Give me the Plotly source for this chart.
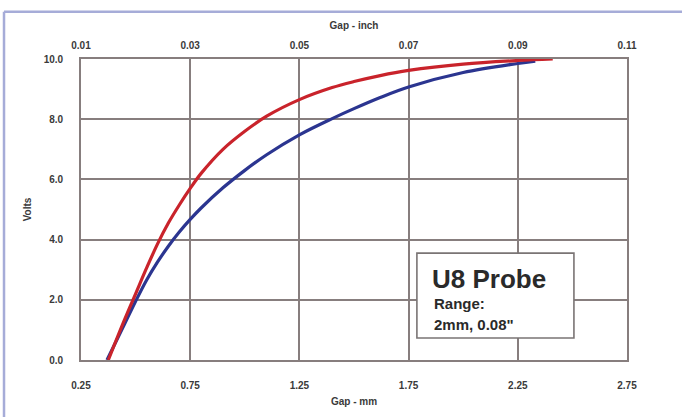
import plotly.graph_objects as go

# Data
mm_red = [0.375, 0.45, 0.50, 0.55, 0.60, 0.65, 0.70, 0.75, 0.80, 0.90, 1.00, 1.10, 1.25, 1.40, 1.50, 1.62, 1.75, 2.00, 2.25, 2.41]
v_red = [0.0, 1.35, 2.2, 3.05, 3.85, 4.55, 5.15, 5.7, 6.2, 7.0, 7.6, 8.1, 8.65, 9.05, 9.25, 9.45, 9.62, 9.83, 9.95, 10.0]

mm_blue = [0.369, 0.45, 0.50, 0.55, 0.60, 0.65, 0.70, 0.75, 0.80, 0.90, 1.00, 1.10, 1.25, 1.40, 1.50, 1.62, 1.75, 2.00, 2.25, 2.33]
v_blue = [0.0, 1.2, 1.95, 2.65, 3.25, 3.78, 4.25, 4.67, 5.05, 5.72, 6.3, 6.82, 7.48, 8.02, 8.35, 8.72, 9.07, 9.55, 9.85, 9.93]

mm_ticks = [0.25, 0.75, 1.25, 1.75, 2.25, 2.75]
inch_labels = ["0.01", "0.03", "0.05", "0.07", "0.09", "0.11"]
volt_ticks = [0, 2, 4, 6, 8, 10]

FONT = "Liberation Sans Narrow, Arial Narrow, Liberation Sans, Arial, sans-serif"
GRID = "#877e7e"
TXT = "#3a3a3a"

fig = go.Figure()
fig.add_trace(go.Scatter(x=mm_blue, y=v_blue, mode="lines", line=dict(color="#2b3590", width=3.2, shape="spline"),
                         showlegend=False, hoverinfo="skip"))
fig.add_trace(go.Scatter(x=mm_red, y=v_red, mode="lines", line=dict(color="#c9232b", width=3.2, shape="spline"),
                         showlegend=False, hoverinfo="skip"))
# invisible trace to carry the top axis
fig.add_trace(go.Scatter(x=[mm_ticks[0], mm_ticks[-1]], y=[0, 0], xaxis="x2", mode="lines",
                         line=dict(color="rgba(0,0,0,0)"), showlegend=False, hoverinfo="skip"))

tickfont = dict(family=FONT, size=10, color=TXT)
axis_common = dict(showgrid=True, gridcolor=GRID, gridwidth=1.6, showline=True, linecolor=GRID,
                   linewidth=1.6, zeroline=False, ticks="outside", tickcolor="rgba(0,0,0,0)",
                   tickfont=tickfont)

fig.update_layout(
    width=682, height=417,
    margin=dict(l=81, r=55, t=59, b=57),
    paper_bgcolor="white", plot_bgcolor="white",
    xaxis=dict(range=[0.25, 2.75], tickvals=mm_ticks, ticktext=[f"<b>{v:.2f}</b>" for v in mm_ticks],
               ticklen=15, mirror=True,
               title=dict(text="<b>Gap - mm</b>", font=dict(family=FONT, size=10, color=TXT), standoff=8),
               **axis_common),
    xaxis2=dict(range=[0.25, 2.75], overlaying="x", side="top", tickvals=mm_ticks,
                ticktext=[f"<b>{t}</b>" for t in inch_labels],
                ticklen=5, showgrid=False, showline=False, zeroline=False, ticks="outside",
                tickcolor="rgba(0,0,0,0)", tickfont=tickfont,
                title=dict(text="<b>Gap - inch</b>", font=dict(family=FONT, size=10, color=TXT), standoff=8)),
    yaxis=dict(range=[0, 10], tickvals=volt_ticks, ticktext=[f"<b>{v:.1f}</b>" for v in volt_ticks],
               ticklen=14, mirror=True,
               title=dict(text="<b>Volts</b>", font=dict(family=FONT, size=10, color=TXT), standoff=10),
               **axis_common),
)

# Outer frame lines (top & left)
fig.add_shape(type="line", xref="paper", yref="paper", x0=-0.141, x1=1.2, y0=1.157, y1=1.157,
              line=dict(color="#a6acd8", width=2.5), layer="above")
fig.add_shape(type="line", xref="paper", yref="paper", x0=-0.141, x1=-0.141, y0=1.157, y1=-0.3,
              line=dict(color="#a6acd8", width=2.5), layer="above")

# Annotation box
fig.add_shape(type="rect", xref="x", yref="y", x0=1.788, x1=2.507, y0=0.73, y1=3.55,
              line=dict(color="#7a7474", width=1.6), fillcolor="white", layer="above")
fig.add_annotation(xref="x", yref="y", x=1.85, y=2.7, xanchor="left", yanchor="middle",
                   text="<b>U8 Probe</b>", showarrow=False,
                   font=dict(family=FONT, size=26, color="#2a2a2a"))
fig.add_annotation(xref="x", yref="y", x=1.855, y=1.88, xanchor="left", yanchor="middle",
                   text="<b>Range:</b>", showarrow=False,
                   font=dict(family=FONT, size=15, color="#2a2a2a"))
fig.add_annotation(xref="x", yref="y", x=1.855, y=1.18, xanchor="left", yanchor="middle",
                   text="<b>2mm, 0.08\"</b>", showarrow=False,
                   font=dict(family=FONT, size=15, color="#2a2a2a"))

fig.write_html("out.html", config={"displayModeBar": False},
               post_script="document.body.style.margin='0';")
